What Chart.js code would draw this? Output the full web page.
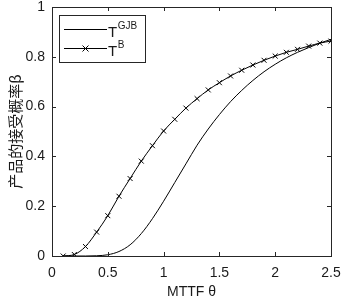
<!DOCTYPE html>
<html>
<head>
<meta charset="utf-8">
<script src="https://cdn.jsdelivr.net/npm/chart.js@4/dist/chart.umd.min.js"></script>
<style>
  html, body { margin: 0; padding: 0; background: #fff; }
  #wrap { width: 342px; height: 303px; position: relative; }
</style>
</head>
<body>
<div id="wrap"><canvas id="chart-beta"></canvas></div>
<script>
// MTTF theta values (shared by both curves)
var theta = [0.1,0.2,0.3,0.4,0.5,0.6,0.7,0.8,0.9,1.0,1.1,1.2,1.3,1.4,1.5,1.6,1.7,1.8,1.9,2.0,2.1,2.2,2.3,2.4,2.5]
// T^GJB acceptance probability
var betaGJB = [0,0,0,0.001,0.005,0.018,0.045,0.09,0.15,0.22,0.295,0.37,0.445,0.51,0.568,0.62,0.665,0.705,0.74,0.77,0.796,0.818,0.837,0.855,0.87]
// T^B acceptance probability
var betaB = [0,0.006,0.038,0.096,0.162,0.24,0.311,0.381,0.443,0.502,0.549,0.594,0.632,0.667,0.696,0.723,0.746,0.767,0.786,0.803,0.818,0.830,0.843,0.855,0.863]
var xTicks = [0,0.5,1,1.5,2,2.5]
var yTicks = [0,0.2,0.4,0.6,0.8,1]
var legendNames = [['T','GJB'],['T','B']]

var ink = '#1a1a1a'
var tickFont = {family: 'Liberation Sans, Arial, sans-serif', size: 14}

function toPoints(xs, ys){
  return xs.map(function(x, i){ return {x: x, y: ys[i]} })
}

// inner ticks on all four sides + box + custom legend
var boxPlugin = {
  id: 'boxPlugin',
  afterDraw: function(chart){
    var ctx = chart.ctx
    var a = chart.chartArea
    var xs = chart.scales.x, ys = chart.scales.y
    var len = 4
    ctx.save()
    ctx.strokeStyle = '#262626'
    ctx.lineWidth = 1
    ctx.beginPath()
    xTicks.forEach(function(t){
      var px = Math.round(xs.getPixelForValue(t)) + 0.5
      ctx.moveTo(px, a.bottom); ctx.lineTo(px, a.bottom - len)
      ctx.moveTo(px, a.top); ctx.lineTo(px, a.top + len)
    })
    yTicks.forEach(function(t){
      var py = Math.round(ys.getPixelForValue(t)) + 0.5
      ctx.moveTo(a.left, py); ctx.lineTo(a.left + len, py)
      ctx.moveTo(a.right, py); ctx.lineTo(a.right - len, py)
    })
    ctx.stroke()
    ctx.strokeRect(Math.round(a.left) + 0.5, Math.round(a.top) + 0.5, Math.round(a.right - a.left), Math.round(a.bottom - a.top))

    // legend
    var lx = 59.5, ly = 15.5, lw = 86, lh = 47
    ctx.fillStyle = '#fff'
    ctx.fillRect(lx, ly, lw, lh)
    ctx.strokeStyle = '#262626'
    ctx.strokeRect(lx, ly, lw, lh)
    var rows = [29.5, 48.5]
    ctx.strokeStyle = '#000'
    rows.forEach(function(ry, i){
      ctx.beginPath()
      ctx.moveTo(64, ry); ctx.lineTo(107, ry)
      ctx.stroke()
      if (i == 1){
        ctx.beginPath()
        ctx.moveTo(82.5, ry - 3); ctx.lineTo(88.5, ry + 3)
        ctx.moveTo(88.5, ry - 3); ctx.lineTo(82.5, ry + 3)
        ctx.stroke()
      }
      ctx.fillStyle = ink
      ctx.textBaseline = 'alphabetic'
      ctx.textAlign = 'left'
      ctx.font = '15px Liberation Sans, Arial, sans-serif'
      ctx.fillText(legendNames[i][0], 108, ry + 7)
      var tw = ctx.measureText(legendNames[i][0]).width
      ctx.font = '10px Liberation Sans, Arial, sans-serif'
      ctx.fillText(legendNames[i][1], 108 + tw + 0.5, ry - 1)
    })
    ctx.restore()
  }
}

var canvas = document.getElementById('chart-beta')
new Chart(canvas, {
  type: 'line',
  data: {
    datasets: [
      {
        data: toPoints(theta, betaGJB),
        borderColor: '#000',
        borderWidth: 1,
        pointRadius: 0,
        cubicInterpolationMode: 'monotone',
        fill: false
      },
      {
        data: toPoints(theta, betaB),
        borderColor: '#000',
        borderWidth: 1,
        pointStyle: 'crossRot',
        pointRadius: 3.5,
        pointBorderColor: '#000',
        pointBorderWidth: 1,
        cubicInterpolationMode: 'monotone',
        fill: false
      }
    ]
  },
  plugins: [boxPlugin],
  options: {
    responsive: true,
    maintainAspectRatio: false,
    animation: false,
    events: [],
    layout: {padding: {top: 0, right: 0, left: 0, bottom: 0}},
    plugins: {legend: {display: false}, tooltip: {enabled: false}},
    scales: {
      x: {
        type: 'linear',
        min: 0, max: 2.5,
        afterBuildTicks: function(s){ s.ticks = xTicks.map(function(v){ return {value: v} }) },
        afterFit: function(s){ s.height = 47; s.paddingRight = 11 },
        grid: {display: false, drawTicks: false},
        border: {display: false},
        ticks: {color: ink, font: tickFont, padding: 9, maxRotation: 0, callback: function(v){ return String(v) }},
        title: {display: true, text: 'MTTF θ', color: ink, font: tickFont, padding: {top: 0, bottom: 2}}
      },
      y: {
        min: 0, max: 1,
        afterBuildTicks: function(s){ s.ticks = yTicks.map(function(v){ return {value: v} }) },
        afterFit: function(s){ s.width = 52; s.paddingTop = 7; s.paddingBottom = 0 },
        grid: {display: false, drawTicks: false},
        border: {display: false},
        ticks: {color: ink, font: tickFont, padding: 7, callback: function(v){ return String(v) }},
        title: {display: true, text: '产品的接受概率β', color: ink, font: {family: 'Noto Sans CJK SC', size: 15}, padding: {top: 6, bottom: 0}}
      }
    }
  }
})
</script>
</body>
</html>
